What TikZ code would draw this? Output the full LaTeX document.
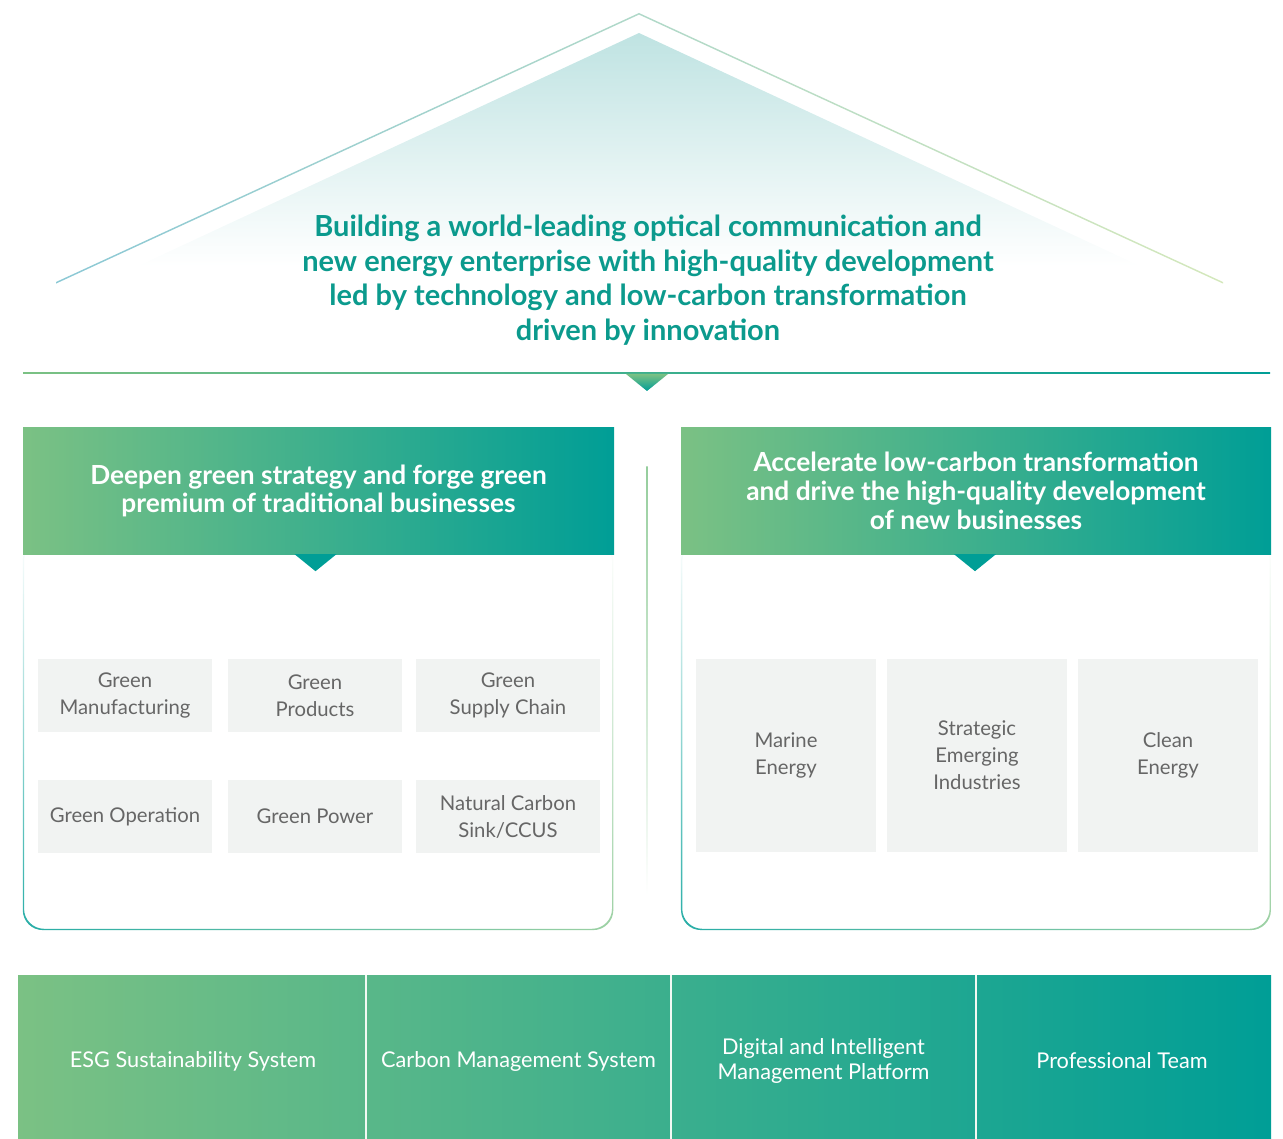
\documentclass[tikz,border=0pt]{standalone}
\usepackage{fontspec}
\setmainfont{Lato}
\usetikzlibrary{fadings}
\definecolor{leafgreen}{HTML}{7BC184}
\definecolor{seateal}{HTML}{009E96}
\definecolor{titleteal}{HTML}{0B9A8D}
\definecolor{roofsky}{HTML}{BFE3E2}
\definecolor{roofblue}{HTML}{2E9CB3}
\definecolor{rooflime}{HTML}{D4E8BC}
\definecolor{boxgray}{HTML}{F1F3F2}
\definecolor{itemgray}{HTML}{666666}
\tikzfading[name=fade up, top color=transparent!100, bottom color=transparent!0]
\tikzset{
  mission/.style={inner sep=0pt, align=center, text=titleteal,
    font=\fontsize{29}{34.7}\selectfont\bfseries},
  header/.style={left color=leafgreen, right color=seateal, inner sep=0pt,
    minimum width=591pt, minimum height=126pt, align=center, text=white,
    font=\fontsize{26.3}{28.8}\selectfont\bfseries},
  item/.style={fill=boxgray, inner sep=0pt, align=center, text=itemgray,
    font=\fontsize{20.3}{27}\selectfont},
  pillar/.style={inner sep=0pt, align=center, text=white,
    font=\fontsize{21.7}{25}\selectfont}
}

\begin{document}
\begin{tikzpicture}[x=1pt,y=-1pt]
\useasboundingbox (0,0) rectangle (1283,1139);

% roof
\shade[top color=roofsky, bottom color=white] (639,33) -- (1140,266) -- (138,266) -- cycle;
\shade[left color=roofblue!55, middle color=roofblue, right color=rooflime]
  (56,282) -- (639,13) -- (1223,282) -- (1223,283.6) -- (639,14.6) -- (56,283.6) -- cycle;
\node[mission] (goal) at (648,280) {Building a world-leading optical communication and\\
  new energy enterprise with high-quality development\\
  led by technology and low-carbon transformation\\
  driven by innovation};

% divider
\shade[left color=leafgreen, right color=seateal] (23,372.4) rectangle (1270,374);
\shade[top color=leafgreen, bottom color=seateal] (626,374) -- (668,374) -- (647,391) -- cycle;
\shade[top color=leafgreen!80, bottom color=white] (646.4,467) rectangle (647.6,895);

% panels
\foreach \xa/\xb in {23/614, 681/1271}
  \shade[left color=seateal!85, right color=leafgreen!75, path fading=fade up,
    even odd rule, rounded corners=20pt]
    (\xa,540) rectangle (\xb,930) (\xa+1.3,541.3) rectangle (\xb-1.3,928.7);

\node[header] (trad) at (318.5,491) {Deepen green strategy and forge green\\
  premium of traditional businesses};
\node[header, minimum width=590pt] (newbiz) at (976,491) {Accelerate low-carbon transformation\\
  and drive the high-quality development\\of new businesses};
\fill[seateal] ([xshift=-24pt]trad.south) -- ([xshift=18pt]trad.south) -- ([xshift=-3pt,yshift=-17pt]trad.south) -- cycle;
\fill[seateal] ([xshift=-22pt]newbiz.south) -- ([xshift=20pt]newbiz.south) -- ([xshift=-1pt,yshift=-17pt]newbiz.south) -- cycle;

% traditional businesses
\node[item, minimum width=174pt, minimum height=73pt] (manu) at (125,695.5) {Green\\Manufacturing};
\node[item, minimum width=174pt, minimum height=73pt] (prod) at (315,695.5) {Green\\Products};
\node[item, minimum width=184pt, minimum height=73pt] (supply) at (508,695.5) {Green\\Supply Chain};
\node[item, minimum width=174pt, minimum height=73pt] (oper) at (125,816.5) {Green Operation};
\node[item, minimum width=174pt, minimum height=73pt] (power) at (315,816.5) {Green Power};
\node[item, minimum width=184pt, minimum height=73pt] (sink) at (508,816.5) {Natural Carbon\\Sink/CCUS};

% new businesses
\node[item, minimum width=180pt, minimum height=193pt] (marine) at (786,755.5) {Marine\\Energy};
\node[item, minimum width=180pt, minimum height=193pt] (emerging) at (977,755.5) {Strategic\\Emerging\\Industries};
\node[item, minimum width=180pt, minimum height=193pt] (clean) at (1168,755.5) {Clean\\Energy};

% foundation
\shade[left color=leafgreen, right color=seateal] (18,975) rectangle (1271,1139);
\foreach \xs in {366,671,976}
  \fill[white!90!leafgreen] (\xs-0.8,975) rectangle (\xs+0.8,1139);
\node[pillar] (esg) at (193,1061) {ESG Sustainability System};
\node[pillar] (carbon) at (518.5,1061) {Carbon Management System};
\node[pillar] (digital) at (823.5,1061) {Digital and Intelligent\\Management Platform};
\node[pillar] (team) at (1122,1061) {Professional Team};
\end{tikzpicture}
\end{document}
